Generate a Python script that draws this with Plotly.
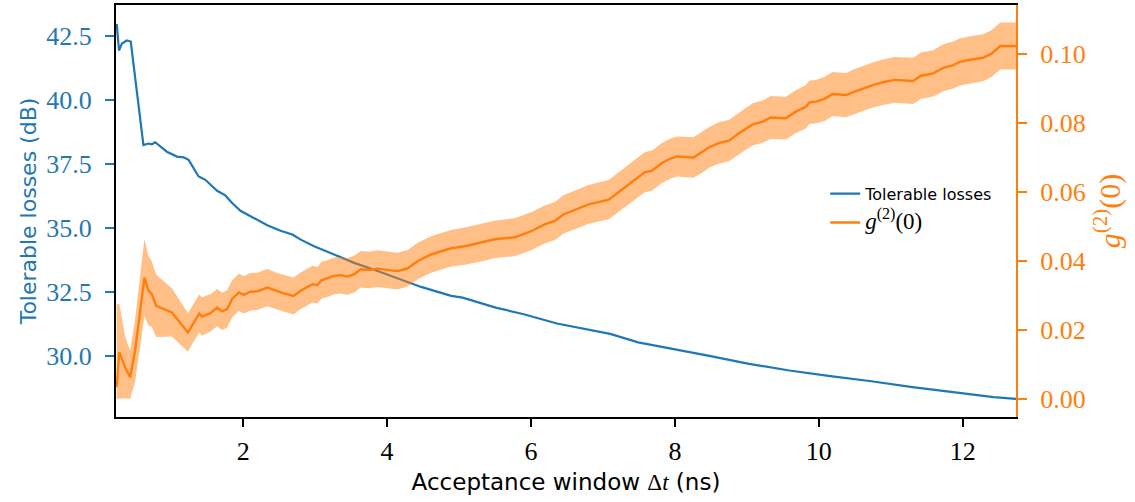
import numpy as np
import plotly.graph_objects as go

# ---- data ----
loss_x = [0.243, 0.275, 0.313, 0.382, 0.438, 0.614, 0.684, 0.731, 0.777, 0.940,
          1.080, 1.172, 1.242, 1.381, 1.474, 1.638, 1.753, 1.847, 1.963, 2.195,
          2.335, 2.520, 2.684, 2.800, 2.985, 3.264, 3.543, 3.869, 4.194, 4.473,
          4.891, 5.050, 5.510, 5.900, 6.360, 6.755, 7.100, 7.490, 8.000, 8.460,
          9.030, 9.590, 10.160, 10.730, 11.300, 11.860, 12.430, 12.740]
loss_db = [42.98, 41.94, 42.20, 42.33, 42.29, 38.24, 38.30, 38.27, 38.35, 37.98,
           37.79, 37.76, 37.66, 37.01, 36.88, 36.45, 36.27, 35.97, 35.67, 35.32,
           35.10, 34.89, 34.74, 34.54, 34.28, 33.96, 33.63, 33.31, 32.99, 32.69,
           32.34, 32.27, 31.88, 31.62, 31.26, 31.04, 30.85, 30.52, 30.26, 30.00,
           29.68, 29.42, 29.20, 29.00, 28.77, 28.57, 28.38, 28.31]

g2_x = [0.243, 0.279, 0.359, 0.429, 0.498, 0.628, 0.684, 0.731, 0.791, 1.010,
        1.233, 1.311, 1.390, 1.428, 1.498, 1.544, 1.638, 1.707, 1.777, 1.847,
        1.940, 2.009, 2.100, 2.196, 2.335, 2.475, 2.567, 2.700, 2.800, 2.963,
        3.030, 3.088, 3.170, 3.264, 3.357, 3.450, 3.543, 3.636, 3.752, 3.870,
        4.055, 4.148, 4.287, 4.427, 4.610, 4.890, 5.080, 5.310, 5.495, 5.775,
        6.010, 6.190, 6.330, 6.450, 6.590, 6.800, 7.080, 7.260, 7.450, 7.580,
        7.680, 7.820, 7.940, 8.030, 8.260, 8.400, 8.470, 8.610, 8.750, 8.890,
        8.980, 9.080, 9.220, 9.330, 9.540, 9.680, 9.820, 9.870, 9.960, 10.080,
        10.190, 10.380, 10.470, 10.610, 10.750, 10.890, 11.050, 11.310, 11.420, 11.590,
        11.730, 11.870, 11.960, 12.120, 12.280, 12.400, 12.520, 12.740]
g2_val = [0.0034, 0.0135, 0.0091, 0.0062, 0.0139, 0.0351, 0.0313, 0.0303, 0.0269, 0.0250,
          0.0192, 0.0221, 0.0247, 0.0238, 0.0245, 0.0248, 0.0264, 0.0253, 0.0260, 0.0289,
          0.0308, 0.0301, 0.0310, 0.0311, 0.0322, 0.0311, 0.0305, 0.0298, 0.0313, 0.0332,
          0.0329, 0.0343, 0.0348, 0.0356, 0.0358, 0.0354, 0.0361, 0.0375, 0.0373, 0.0377,
          0.0372, 0.0370, 0.0378, 0.0399, 0.0418, 0.0436, 0.0442, 0.0452, 0.0462, 0.0468,
          0.0486, 0.0505, 0.0515, 0.0534, 0.0545, 0.0563, 0.0577, 0.0606, 0.0635, 0.0656,
          0.0661, 0.0683, 0.0696, 0.0702, 0.0699, 0.0717, 0.0728, 0.0741, 0.0748, 0.0769,
          0.0782, 0.0795, 0.0803, 0.0815, 0.0813, 0.0832, 0.0846, 0.0859, 0.0861, 0.0869,
          0.0883, 0.0880, 0.0888, 0.0899, 0.0909, 0.0917, 0.0924, 0.0921, 0.0936, 0.0943,
          0.0959, 0.0967, 0.0976, 0.0983, 0.0988, 0.1000, 0.1022, 0.1022]
g2_err = [0.0240, 0.0140, 0.0090, 0.0077, 0.0090, 0.0112, 0.0100, 0.0095, 0.0090, 0.0070,
          0.0056, 0.0055, 0.0055, 0.0055, 0.0055, 0.0054, 0.0054, 0.0054, 0.0054, 0.0054,
          0.0054, 0.0054, 0.0054, 0.0054, 0.0054, 0.0053, 0.0053, 0.0053, 0.0053, 0.0053,
          0.0053, 0.0053, 0.0053, 0.0053, 0.0053, 0.0053, 0.0053, 0.0053, 0.0053, 0.0053,
          0.0053, 0.0053, 0.0053, 0.0053, 0.0053, 0.0053, 0.0054, 0.0054, 0.0054, 0.0055,
          0.0055, 0.0055, 0.0055, 0.0056, 0.0056, 0.0056, 0.0057, 0.0057, 0.0057, 0.0058,
          0.0058, 0.0058, 0.0058, 0.0058, 0.0059, 0.0059, 0.0059, 0.0060, 0.0060, 0.0060,
          0.0061, 0.0061, 0.0061, 0.0062, 0.0062, 0.0062, 0.0063, 0.0063, 0.0063, 0.0064,
          0.0064, 0.0064, 0.0065, 0.0065, 0.0065, 0.0066, 0.0066, 0.0067, 0.0067, 0.0067,
          0.0068, 0.0068, 0.0068, 0.0068, 0.0068, 0.0068, 0.0068, 0.0068]

left_ticks = [30.0, 32.5, 35.0, 37.5, 40.0, 42.5]
right_ticks = [0.00, 0.02, 0.04, 0.06, 0.08, 0.10]
x_ticks = [2, 4, 6, 8, 10, 12]

BLUE = "#1f77b4"
ORANGE = "#ff7f0e"
SERIF = "Liberation Serif"
SANS = "DejaVu Sans"

g2 = np.array(g2_val)
err = np.array(g2_err)
upper = g2 + err
lower = np.maximum(g2 - err, 0.0)

fig = go.Figure()
fig.add_trace(go.Scatter(x=loss_x, y=loss_db, mode="lines", name="Tolerable losses",
                         legendgroup="a",
                         line=dict(color=BLUE, width=2.2), yaxis="y"))
fig.add_trace(go.Scatter(x=list(g2_x) + list(g2_x)[::-1],
                         y=list(upper) + list(lower)[::-1],
                         fill="toself", fillcolor="rgba(255,127,14,0.5)",
                         line=dict(width=0), hoverinfo="skip", showlegend=False,
                         mode="lines", yaxis="y2"))
fig.add_trace(go.Scatter(x=g2_x, y=g2_val, mode="lines", legendgroup="b",
                         name=f'<span style="font-family:{SERIF}; font-size:23px"><i>g</i><sup>(2)</sup>(0)</span>',
                         line=dict(color=ORANGE, width=2.4), yaxis="y2"))

fig.update_layout(
    width=1135, height=502,
    margin=dict(l=116, r=119, t=3, b=85),
    paper_bgcolor="white", plot_bgcolor="white",
    showlegend=True,
    legend=dict(x=0.788, y=0.583, xanchor="left", yanchor="top",
                bgcolor="rgba(255,255,255,0)", borderwidth=0,
                font=dict(family=SANS, size=16, color="black"),
                tracegroupgap=5),
    xaxis=dict(range=[0.233, 12.74], tickvals=x_ticks, ticktext=[str(t) for t in x_ticks],
               showgrid=False, zeroline=False,
               showline=True, linecolor="black", linewidth=2, mirror=True,
               ticks="outside", ticklen=8, tickwidth=1.5, tickcolor="black",
               ticklabelstandoff=2,
               tickfont=dict(family=SERIF, size=26, color="black"),
               title=dict(text=f'Acceptance window <span style="font-family:{SERIF}">Δ<i>t</i></span> (ns)',
                          font=dict(family=SANS, size=23, color="black"), standoff=9)),
    yaxis=dict(range=[27.60, 43.72], tickvals=left_ticks,
               ticktext=[f"{t:.1f}" for t in left_ticks],
               showgrid=False, zeroline=False,
               showline=True, linecolor="black", linewidth=2,
               ticks="outside", ticklen=9, tickwidth=1.5, tickcolor=BLUE,
               ticklabelstandoff=8,
               tickfont=dict(family=SERIF, size=26, color=BLUE),
               title=dict(text="Tolerable losses (dB)",
                          font=dict(family=SANS, size=22, color=BLUE), standoff=4)),
    yaxis2=dict(range=[-0.0053, 0.1141], tickvals=right_ticks,
                ticktext=[f"{t:.2f}" for t in right_ticks],
                overlaying="y", side="right", anchor="x",
                showgrid=False, zeroline=False,
                showline=True, linecolor=ORANGE, linewidth=2,
                ticks="outside", ticklen=9, tickwidth=1.5, tickcolor=ORANGE,
                ticklabelstandoff=8,
                tickfont=dict(family=SERIF, size=26, color=ORANGE),
                title=dict(text="<i>g</i><sup>(2)</sup>(0)",
                           font=dict(family=SERIF, size=30, color=ORANGE), standoff=14)),
)

fig.write_html("out.html", config={"displayModeBar": False},
               post_script="document.body.style.margin='0';")
